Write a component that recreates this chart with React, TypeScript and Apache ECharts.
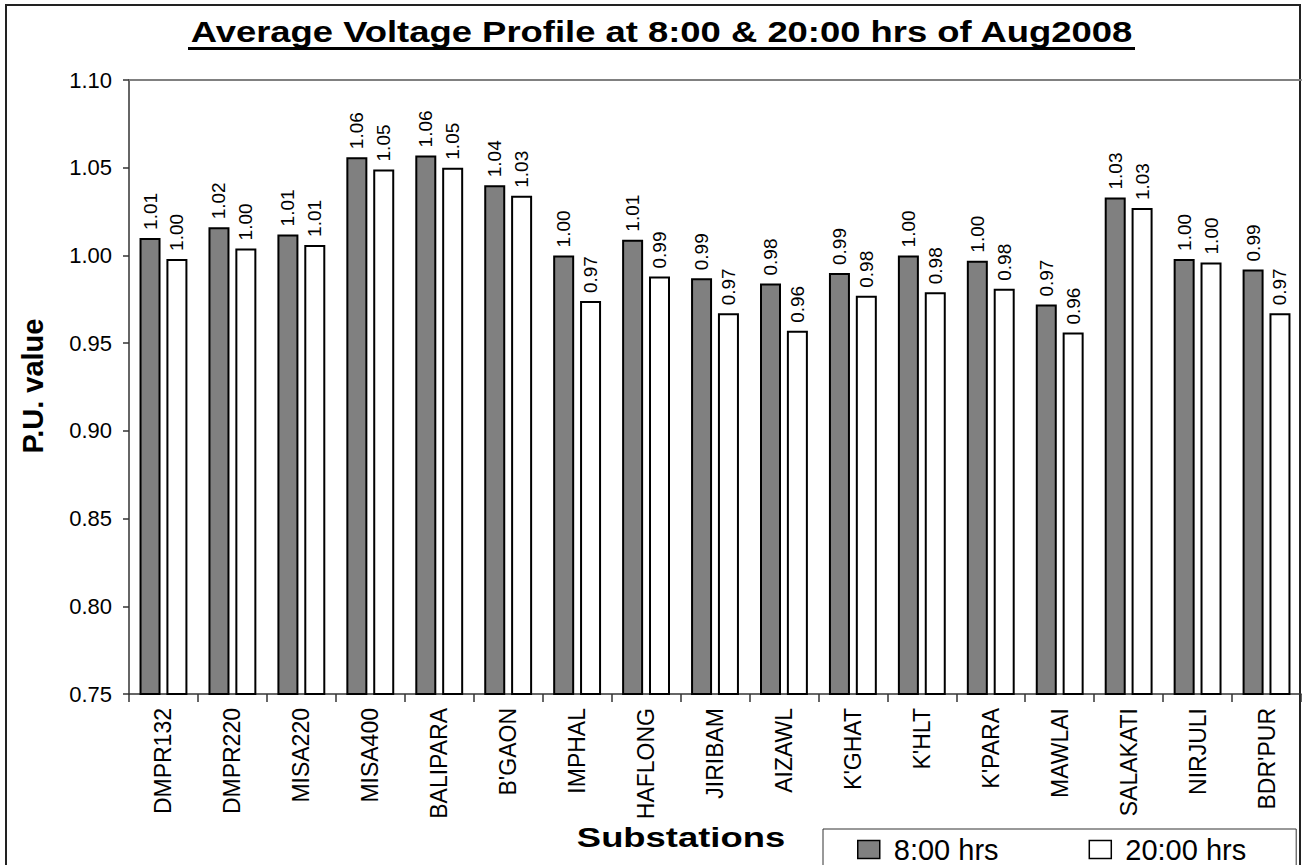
import React, { useEffect, useRef } from "react";
import * as echarts from "echarts";

const categories = [
  "DMPR132", "DMPR220", "MISA220", "MISA400", "BALIPARA", "B'GAON", "IMPHAL",
  "HAFLONG", "JIRIBAM", "AIZAWL", "K'GHAT", "K'HLT", "K'PARA", "MAWLAI",
  "SALAKATI", "NIRJULI", "BDR'PUR",
];
const seriesNames = ["8:00 hrs", "20:00 hrs"];
const values8 = [1.010, 1.016, 1.012, 1.056, 1.057, 1.040, 1.000, 1.009, 0.987, 0.984, 0.990, 1.000, 0.997, 0.972, 1.033, 0.998, 0.992];
const values20 = [0.998, 1.004, 1.006, 1.049, 1.050, 1.034, 0.974, 0.988, 0.967, 0.957, 0.977, 0.979, 0.981, 0.956, 1.027, 0.996, 0.967];
const yMin = 0.75;
const yMax = 1.10;
const yStep = 0.05;
const titleText = "Average Voltage Profile at 8:00 & 20:00 hrs of Aug2008";
const xName = "Substations";
const yName = "P.U. value";

const FONT = '"Liberation Sans", Arial, Helvetica, sans-serif';

export default function App() {
  const ref = useRef<HTMLDivElement>(null);
  useEffect(() => {
    if (!ref.current) return;
    const chart = echarts.init(ref.current, undefined, { renderer: "svg" });
    const labelCfg = {
      show: true,
      position: "top",
      distance: 8,
      rotate: 90,
      align: "left",
      verticalAlign: "middle",
      fontFamily: FONT,
      fontSize: 19,
      color: "#000",
      formatter: (p: any) => Number(p.value).toFixed(2),
    };
    chart.setOption({
      animation: false,
      backgroundColor: "#fff",
      textStyle: { fontFamily: FONT },
      grid: { left: 129, right: 1, top: 80, bottom: 171, containLabel: false },
      legend: {
        data: seriesNames,
        left: 823,
        top: 829,
        orient: "horizontal",
        padding: [6, 50, 10, 34],
        itemGap: 90,
        itemWidth: 22,
        itemHeight: 18,
        borderColor: "#333",
        borderWidth: 1,
        backgroundColor: "#fff",
        icon: "rect",
        itemStyle: { borderColor: "#000", borderWidth: 1.5 },
        textStyle: { fontFamily: FONT, fontSize: 29, color: "#000", padding: [0, 0, 0, 9] },
      },
      xAxis: [
        {
          type: "category",
          data: categories,
          position: "bottom",
          boundaryGap: true,
          axisLine: { show: true, lineStyle: { color: "#333", width: 1.5 } },
          axisTick: { show: true, length: 8, lineStyle: { color: "#333", width: 1.5 } },
          axisLabel: {
            rotate: 90,
            margin: 14,
            interval: 0,
            fontFamily: FONT,
            fontSize: 23,
            color: "#000",
          },
          splitLine: { show: false },
        },
        {
          type: "category",
          data: categories,
          position: "top",
          axisLine: { show: true, lineStyle: { color: "#808080", width: 2 } },
          axisTick: { show: false },
          axisLabel: { show: false },
          splitLine: { show: false },
        },
      ],
      yAxis: {
        type: "value",
        min: yMin,
        max: yMax,
        interval: yStep,
        axisLine: { show: true, lineStyle: { color: "#333", width: 1.5 } },
        axisTick: { show: true, length: 6, lineStyle: { color: "#333", width: 1.5 } },
        axisLabel: {
          margin: 17,
          fontFamily: FONT,
          fontSize: 22,
          color: "#000",
          formatter: (v: number) => v.toFixed(2),
        },
        splitLine: { show: false },
      },
      series: [
        {
          name: seriesNames[0],
          type: "bar",
          data: values8,
          barWidth: 21,
          barGap: "28%",
          itemStyle: { color: "#808080", borderColor: "#000", borderWidth: 2 },
          label: labelCfg,
        },
        {
          name: seriesNames[1],
          type: "bar",
          data: values20,
          barWidth: 21,
          barGap: "28%",
          itemStyle: { color: "#ffffff", borderColor: "#000", borderWidth: 2 },
          label: labelCfg,
        },
      ],
      graphic: [
        {
          type: "rect",
          silent: true,
          z: -10,
          shape: { x: 6, y: 5, width: 1294, height: 900 },
          style: { fill: "none", stroke: "#222", lineWidth: 2 },
        },
        {
          type: "text",
          x: 661.5,
          y: 31.5,
          scaleX: 1.256,
          style: {
            text: titleText,
            font: `bold 29px ${FONT}`,
            fill: "#000",
            textAlign: "center",
            textVerticalAlign: "middle",
            align: "center",
            verticalAlign: "middle",
          },
        },
        {
          type: "line",
          shape: { x1: 188, y1: 48.5, x2: 1135, y2: 48.5 },
          style: { stroke: "#000", lineWidth: 3 },
        },
        {
          type: "text",
          x: 681,
          y: 838,
          scaleX: 1.3,
          style: {
            text: xName,
            font: `bold 28px ${FONT}`,
            fill: "#000",
            textAlign: "center",
            textVerticalAlign: "middle",
            align: "center",
            verticalAlign: "middle",
          },
        },
        {
          type: "text",
          x: 33,
          y: 386,
          rotation: Math.PI / 2,
          style: {
            text: yName,
            font: `bold 29px ${FONT}`,
            fill: "#000",
            textAlign: "center",
            textVerticalAlign: "middle",
            align: "center",
            verticalAlign: "middle",
          },
        },
      ],
    });
    return () => chart.dispose();
  }, []);
  return (
    <div
      ref={ref}
      style={{ position: "absolute", left: 0, top: 0, width: 1302, height: 865 }}
    />
  );
}
